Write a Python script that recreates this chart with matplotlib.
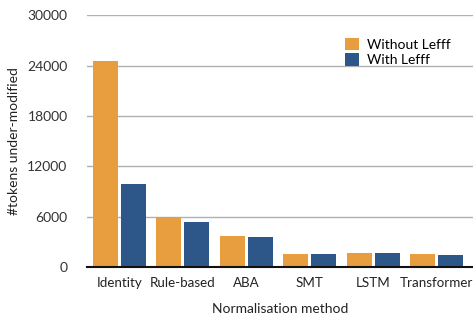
import matplotlib.pyplot as plt
import numpy as np

plt.rcParams['font.family'] = ['Lato', 'DejaVu Sans']

methods = ["Identity", "Rule-based", "ABA", "SMT", "LSTM", "Transformer"]
without_lefff = [24500, 6000, 3700, 1550, 1700, 1550]
with_lefff = [9900, 5400, 3550, 1550, 1700, 1500]
yticks = [0, 6000, 12000, 18000, 24000, 30000]

orange = "#E89E3E"
blue = "#2D5689"

fig = plt.figure(figsize=(4.73, 3.15), dpi=100)
ax = fig.add_axes([0.184, 0.152, 0.816, 0.800])

x = np.arange(len(methods))
w = 0.394
off = 0.22
ax.bar(x - off, without_lefff, w, color=orange, label="Without Lefff", zorder=3)
ax.bar(x + off, with_lefff, w, color=blue, label="With Lefff", zorder=3)

ax.set_xlim(-0.51, 5.57)
ax.set_ylim(0, 30000)
ax.set_yticks(yticks)
ax.set_yticklabels([str(t) for t in yticks], fontsize=10, color="#333333")
ax.set_xticks(x)
ax.set_xticklabels(methods, fontsize=9.6, color="#222222")
ax.tick_params(axis='both', length=0)
ax.tick_params(axis='y', pad=14)
ax.tick_params(axis='x', pad=7)
ax.grid(axis='y', color="#B0B0B0", linewidth=1.0, zorder=0)

for s in ['top', 'right', 'left']:
    ax.spines[s].set_visible(False)
ax.spines['bottom'].set_color("#111111")
ax.spines['bottom'].set_linewidth(1.5)
ax.spines['bottom'].set_zorder(4)

ax.set_xlabel("Normalisation method", fontsize=10, color="#222222", labelpad=10)
ax.set_ylabel("#tokens under-modified", fontsize=10, color="#222222", labelpad=5)

ax.legend(loc='upper right', bbox_to_anchor=(0.975, 0.96), frameon=False,
          fontsize=10, handlelength=1.0, handleheight=1.0, handletextpad=0.6,
          labelspacing=0.2)

fig.savefig("out.png", dpi=100)
